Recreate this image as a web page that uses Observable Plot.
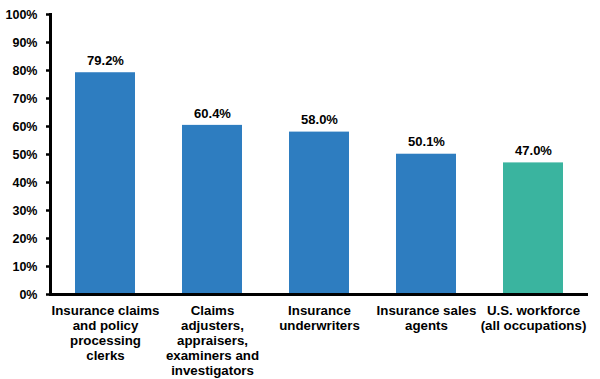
<!DOCTYPE html>
<html>
<head>
<meta charset="utf-8">
<script src="https://cdn.jsdelivr.net/npm/d3@7"></script>
<script src="https://cdn.jsdelivr.net/npm/@observablehq/plot@0.6"></script>
<style>
  html, body { margin: 0; padding: 0; background: #fff; }
  svg { font-family: "Liberation Sans", Arial, sans-serif; }
</style>
</head>
<body>
<div id="chart"></div>
<script>
const categories = [
  "Insurance claims\nand policy\nprocessing\nclerks",
  "Claims\nadjusters,\nappraisers,\nexaminers and\ninvestigators",
  "Insurance\nunderwriters",
  "Insurance sales\nagents",
  "U.S. workforce\n(all occupations)"
];
const values = [79.2, 60.4, 58.0, 50.1, 47.0];
const groups = ["insurance", "insurance", "insurance", "insurance", "all"];
const yTicks = [0, 10, 20, 30, 40, 50, 60, 70, 80, 90, 100];

const data = categories.map((c, i) => ({category: c, value: values[i], group: groups[i]}));

const chart = Plot.plot({
  width: 600,
  height: 379,
  marginLeft: 50,
  marginRight: 12,
  marginTop: 14,
  marginBottom: 85,
  style: {fontFamily: "'Liberation Sans', Arial, sans-serif", fontWeight: "bold", fontSize: "12px", color: "#000"},
  x: {domain: categories, paddingInner: 0.44, paddingOuter: 0.22, label: null},
  y: {domain: [0, 100], label: null},
  color: {domain: ["insurance", "all"], range: ["#2E7DC0", "#3AB49F"]},
  marks: [
    Plot.barY(data, {x: "category", y: "value", fill: "group"}),
    Plot.text(data, {x: "category", y: "value", text: d => d.value.toFixed(1) + "%", dy: -12, fontSize: 13, fontWeight: "bold", fill: "#000"}),
    Plot.axisY({ticks: yTicks, tickFormat: d => d + "%", tickSize: 4, tickPadding: 9, strokeWidth: 2.5, fontSize: 12.5, fontWeight: "bold"}),
    Plot.axisX({tickSize: 0, tickPadding: 10, fontSize: 13.3, fontWeight: "bold", lineHeight: 1.13}),
    Plot.frame({anchor: "left", strokeWidth: 3}),
    Plot.ruleY([0], {strokeWidth: 3})
  ]
});
document.getElementById("chart").appendChild(chart);
</script>
</body>
</html>
